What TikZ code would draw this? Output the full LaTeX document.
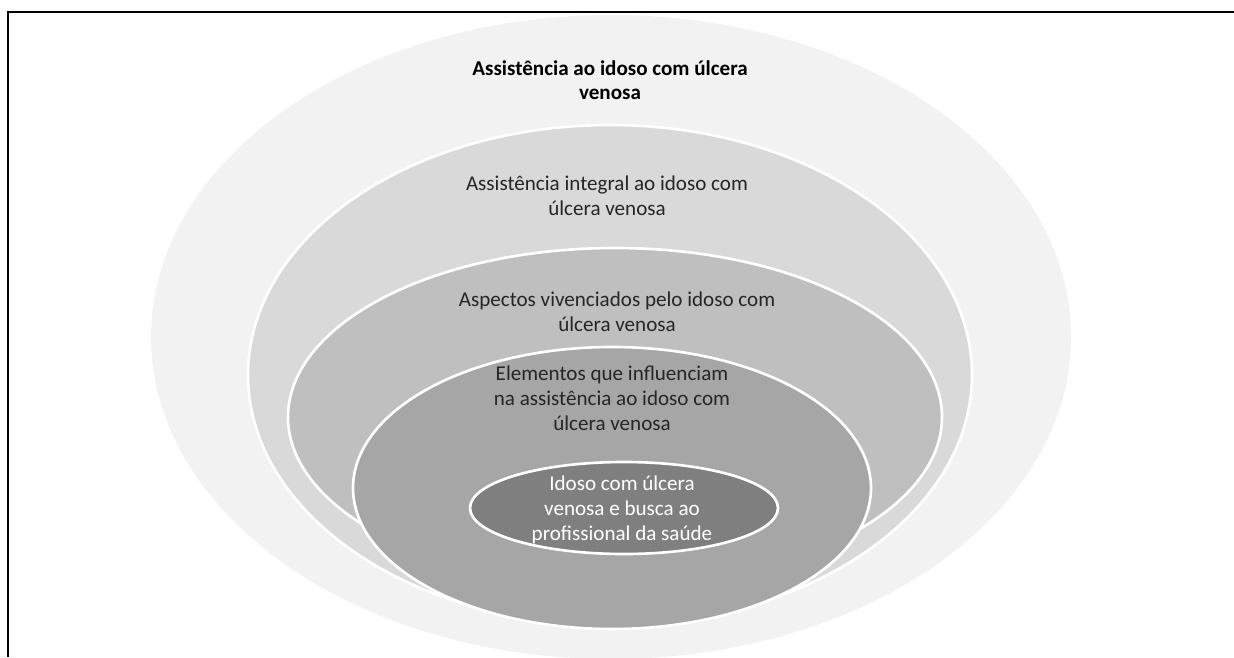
\documentclass[tikz,border=0pt]{standalone}
\usepackage{fontspec}
\setmainfont{Carlito}
\usepackage{xcolor}
\usepackage{tikz}
\definecolor{nivelum}{HTML}{F2F2F2}
\definecolor{niveldois}{HTML}{D9D9D9}
\definecolor{niveltres}{HTML}{BFBFBF}
\definecolor{nivelquatro}{HTML}{A6A6A6}
\definecolor{nivelcinco}{HTML}{7F7F7F}
\tikzstyle{moldura} = [draw=black, line width=1.6pt]
\tikzstyle{nivel} = [draw=white, line width=1.5pt]
\tikzstyle{rotulo} = [align=center, inner sep=0pt, text=black!85,
    font=\fontsize{12}{14.2}\selectfont]
\tikzstyle{titulo} = [rotulo, text=black, font=\fontsize{12}{14}\selectfont\bfseries]

\begin{document}
\begin{tikzpicture}[x=0.02cm, y=0.02cm]
\useasboundingbox (0,0) rectangle (1234,657);
\draw[moldura] (8,0) -- (8,645) -- (1240,645);
\fill[nivelum] (611,320) ellipse (460 and 322);
\filldraw[nivel, fill=niveldois] (610,282) ellipse (362 and 250);
\filldraw[nivel, fill=niveltres] (615,240) ellipse (327 and 169);
\filldraw[nivel, fill=nivelquatro] (612,169) ellipse (259 and 141);
\filldraw[nivel, fill=nivelcinco] (624,149) ellipse (154 and 46);
\node[titulo] (externo) at (610,577) {Assistência ao idoso com úlcera\\venosa};
\node[rotulo] (integral) at (607,461) {Assistência integral ao idoso com\\úlcera venosa};
\node[rotulo] (aspectos) at (617,345) {Aspectos vivenciados pelo idoso com\\úlcera venosa};
\node[rotulo] (elementos) at (612,259) {Elementos que influenciam\\na assistência ao idoso com\\úlcera venosa};
\node[rotulo, text=white] (idoso) at (622,147) {Idoso com úlcera\\venosa e busca ao\\profissional da saúde};
\end{tikzpicture}
\end{document}
